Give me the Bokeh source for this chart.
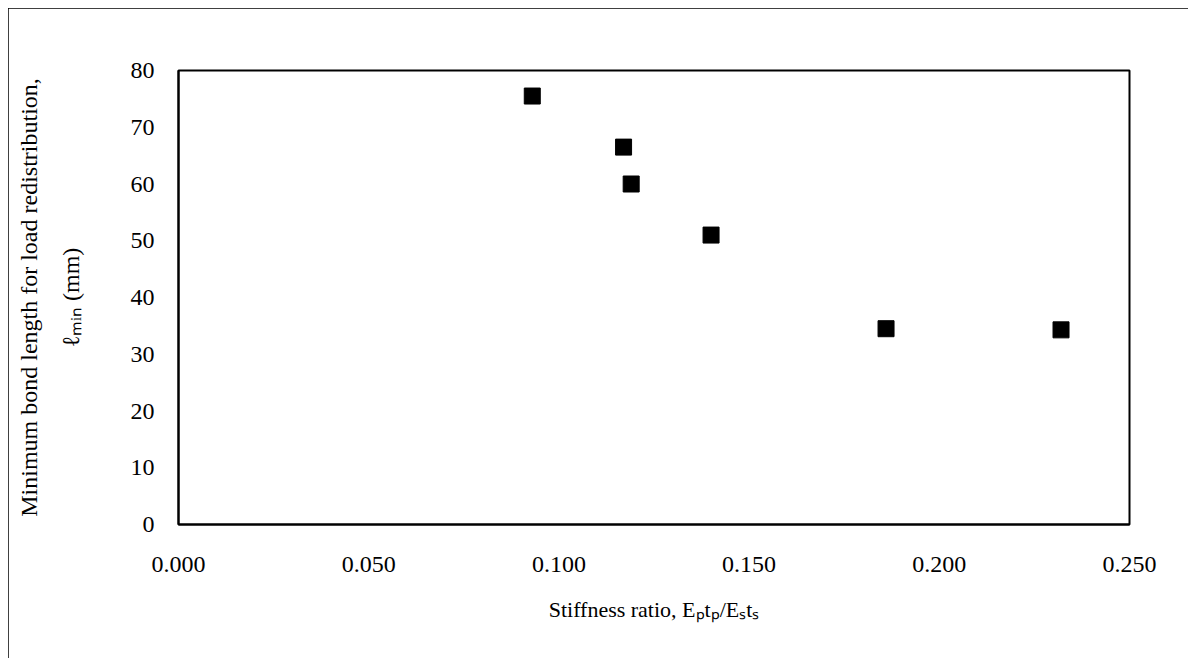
from bokeh.plotting import figure
from bokeh.models import FixedTicker, NumeralTickFormatter, Range1d
from bokeh.embed import file_html
from bokeh.resources import INLINE

# Data
stiffness_ratio = [0.093, 0.117, 0.119, 0.140, 0.186, 0.232]
min_bond_length = [75.5, 66.5, 60.0, 51.0, 34.5, 34.3]

x_ticks = [0.0, 0.05, 0.10, 0.15, 0.20, 0.25]
y_ticks = [0, 10, 20, 30, 40, 50, 60, 70, 80]

FONT = "Liberation Serif"

p = figure(
    width=1180, height=650,
    output_backend="svg", toolbar_location=None,
    x_range=Range1d(0, 0.25), y_range=Range1d(0, 80),
    min_border_left=170, min_border_right=59,
    min_border_top=62, min_border_bottom=134,
)
p.margin = (8, 0, 0, 8)
p.styles = {"outline": "2px solid black", "outline-offset": "-2px"}

p.scatter(stiffness_ratio, min_bond_length, marker="square", size=16,
          fill_color="black", line_color="black")

p.xgrid.visible = False
p.ygrid.visible = False
p.outline_line_color = "black"
p.outline_line_width = 2
p.outline_line_alpha = 1.0

for ax in (p.xaxis[0], p.yaxis[0]):
    ax.axis_line_color = "black"
    ax.axis_line_width = 2
    ax.major_tick_line_color = None
    ax.minor_tick_line_color = None
    ax.major_label_text_font = FONT
    ax.major_label_text_font_size = "24px"
    ax.major_label_text_color = "black"
    ax.axis_label_text_font = FONT
    ax.axis_label_text_font_style = "normal"
    ax.axis_label_text_color = "black"

p.xaxis.axis_label_text_font_size = "22px"
p.yaxis.axis_label_text_font_size = "24px"
p.yaxis.axis_label_text_line_height = 1.6

p.xaxis.ticker = FixedTicker(ticks=x_ticks)
p.yaxis.ticker = FixedTicker(ticks=y_ticks)
p.xaxis.formatter = NumeralTickFormatter(format="0.000")
p.yaxis.formatter = NumeralTickFormatter(format="0")
p.xaxis.major_label_standoff = 26
p.yaxis.major_label_standoff = 18

p.xaxis.axis_label = "Stiffness ratio, E\u209at\u209a/E\u209bt\u209b"
p.xaxis.axis_label_standoff = 22
p.yaxis.axis_label = "Minimum bond length for load redistribution,\n\u2113\u2098\u1d62\u2099 (mm)"
p.yaxis.axis_label_standoff = 44

open("out.html", "w").write(file_html(p, INLINE))
